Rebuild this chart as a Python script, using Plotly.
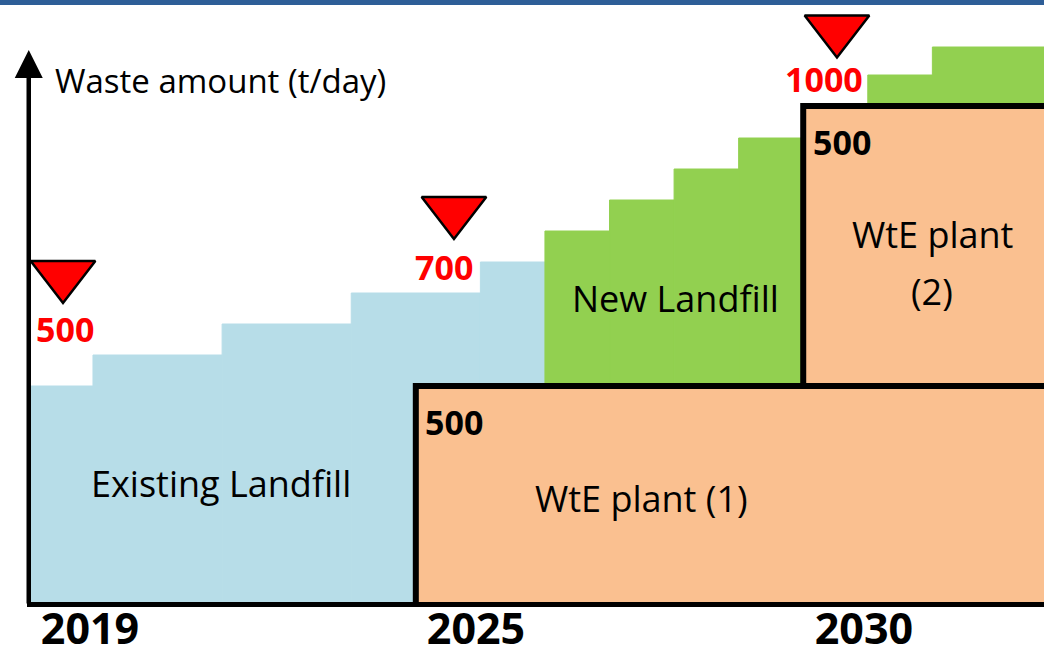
import plotly.graph_objects as go

# ---------------- data (schematic diagram units) ----------------
# x: year steps counted from the start of 2019; y: schematic waste-amount level
year_labels = ["2019", "2025", "2030"]
year_label_pos = [0.954, 6.932, 12.94]

existing_start = [0, 1, 3, 5, 7]
existing_span = [1, 2, 2, 2, 1]
existing_level = [219, 250, 281, 312, 343]

new_start = [8, 9, 10, 11, 13, 14]
new_span = [1, 1, 1, 1, 1, 2]
new_level = [374, 405, 436, 467, 530, 558]

wte_names = ["WtE plant (1)", "WtE plant (2)"]
wte_start = [6, 12]
wte_span = [10, 4]
wte_base = [0, 219]
wte_top = [219, 499]
wte_capacity = ["500", "500"]

milestone_amount = ["500", "700", "1000"]
milestone_pos = [0.536, 6.591, 12.523]
milestone_level = [330, 394, 575.5]

# ---------------- styles ----------------
BLUE = "#B7DDE8"
GREEN = "#92D050"
ORANGE = "#FAC090"
FONT = "Open Sans"

fig = go.Figure()

fig.add_trace(go.Bar(
    x=existing_start, y=existing_level, base=0, width=existing_span, offset=0,
    marker=dict(color=BLUE, line=dict(color=BLUE, width=1)), hoverinfo="skip",
    name="Existing Landfill"))

fig.add_trace(go.Bar(
    x=new_start, y=new_level, base=0, width=new_span, offset=0,
    marker=dict(color=GREEN, line=dict(color=GREEN, width=1)), hoverinfo="skip",
    name="New Landfill"))

fig.add_trace(go.Bar(
    x=wte_start, y=[t - b for t, b in zip(wte_top, wte_base)], base=wte_base,
    width=wte_span, offset=0,
    marker=dict(color=ORANGE, line=dict(color="black", width=6)),
    hoverinfo="skip", name="WtE plant"))

fig.add_trace(go.Scatter(
    x=milestone_pos, y=milestone_level, mode="markers", cliponaxis=False,
    marker=dict(symbol="triangle-down", size=56, color="#FF0000",
                line=dict(color="black", width=2.5)),
    hoverinfo="skip"))

ann = []
# y-axis line with arrow head (drawn from the x-axis up)
ann.append(dict(x=28.75 / 1044, y=(648 - 50) / 648, xref="paper", yref="paper", text="",
                showarrow=True, ax=0, ay=555, arrowhead=2, arrowwidth=4.5, arrowsize=1.244,
                arrowcolor="black", standoff=0))
# milestone amounts (red)
red_pos = [(0.567, 276.5), (6.429, 338.5), (12.314, 526)]
for txt, (ux, vy) in zip(milestone_amount, red_pos):
    ann.append(dict(x=ux, y=vy, text=txt, showarrow=False, xanchor="center", yanchor="middle",
                    font=dict(family=FONT, size=34, color="#FF0000", weight="bold")))
# capacities (black bold)
cap_pos = [(6.584, 183.5), (12.596, 463.5)]
for txt, (ux, vy) in zip(wte_capacity, cap_pos):
    ann.append(dict(x=ux, y=vy, text=txt, showarrow=False, xanchor="center", yanchor="middle",
                    font=dict(family=FONT, size=34, color="black", weight="bold")))
# area labels
area_labels = [("Existing Landfill", 2.99, 121.3), ("New Landfill", 10.02, 307),
               ("WtE plant (1)", 9.495, 106.3), ("WtE plant", 14.0, 370.3), ("(2)", 14.0, 314)]
for txt, ux, vy in area_labels:
    ann.append(dict(x=ux, y=vy, text=txt, showarrow=False, xanchor="center", yanchor="middle",
                    font=dict(family=FONT, size=36, color="black")))
# axis title
ann.append(dict(x=0.381, y=524.5, text="Waste amount (t/day)", showarrow=False,
                xanchor="left", yanchor="middle", font=dict(family=FONT, size=33, color="black")))

fig.update_layout(
    width=1044, height=648, margin=dict(l=0, r=0, t=0, b=0, autoexpand=False),
    paper_bgcolor="white", plot_bgcolor="white", barmode="overlay", showlegend=False,
    xaxis=dict(domain=[26.5 / 1044, 1], range=[-0.0294, 15.729], showgrid=False, zeroline=False,
               showline=True, linecolor="black", linewidth=4.5, ticks="", automargin=False,
               tickvals=year_label_pos, ticktext=year_labels, ticklabelstandoff=-14,
               tickfont=dict(family=FONT, size=43, color="black", weight="bold")),
    yaxis=dict(domain=[46 / 648, 1], range=[3, 605], showgrid=False, zeroline=False,
               showline=False, ticks="", showticklabels=False, automargin=False),
    shapes=[dict(type="rect", xref="paper", yref="paper", x0=0, x1=1, y0=1 - 5 / 648, y1=1,
                 fillcolor="#2E5E97", line=dict(width=0), layer="above")],
    annotations=ann,
)

fig.write_html("out.html", config={"displayModeBar": False},
               post_script="document.body.style.margin='0px';document.body.style.overflow='hidden';")
